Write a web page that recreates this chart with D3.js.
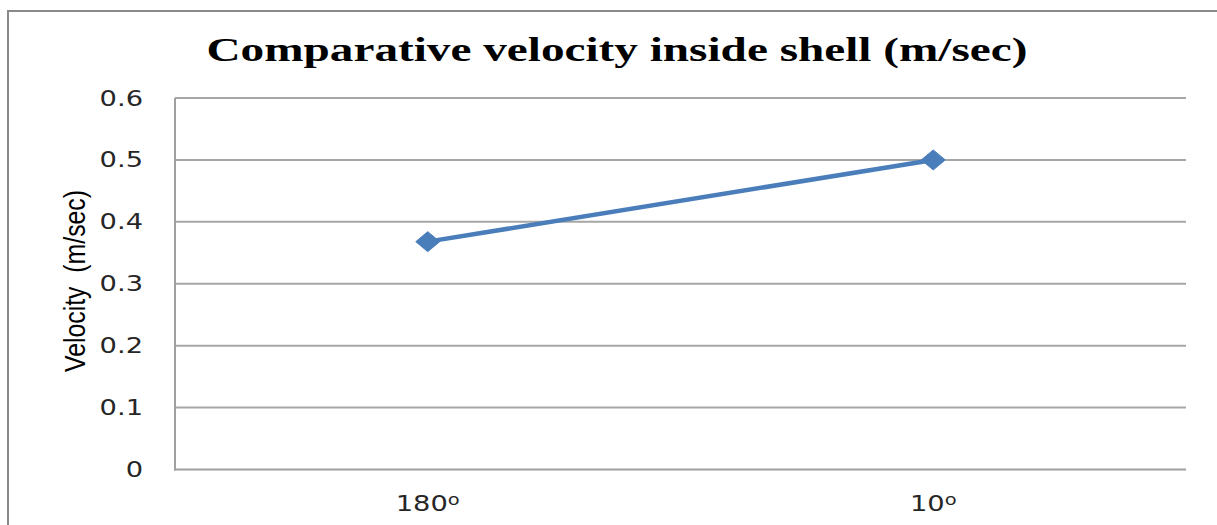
<!DOCTYPE html>
<html>
<head>
<meta charset="utf-8">
<script src="https://cdn.jsdelivr.net/npm/d3@7"></script>
<style>
  html, body { margin: 0; padding: 0; background: #fff; }
  svg { display: block; }
  text { white-space: pre; }
</style>
</head>
<body>
<svg id="chart" width="1217" height="525"></svg>
<script>
const titleText = "Comparative velocity inside shell (m/sec)";
const yAxisLabel = "Velocity  (m/sec)";
const categories = ["180\u00B0", "10\u00B0"];
const velocity = [0.368, 0.5];
const yTicks = [0, 0.1, 0.2, 0.3, 0.4, 0.5, 0.6];

const svg = d3.select("#chart");
const W = 1217, H = 525;
const stretch = 1.3; // horizontal text stretch seen in the reference

// outer frame (extends past right and bottom edge)
svg.append("rect")
  .attr("x", 8).attr("y", 11)
  .attr("width", W + 20).attr("height", H + 20)
  .attr("fill", "#fff").attr("stroke", "#898989").attr("stroke-width", 2);

const plot = { left: 175, right: 1186, top: 98, bottom: 469.5 };

const x = d3.scaleBand().domain(categories).range([plot.left, plot.right]);
const y = d3.scaleLinear().domain([0, 0.6]).range([plot.bottom, plot.top]);

// gridlines
svg.append("g").selectAll("line").data(yTicks.filter(d => d > 0)).join("line")
  .attr("x1", plot.left).attr("x2", plot.right)
  .attr("y1", d => y(d)).attr("y2", d => y(d))
  .attr("stroke", "#a6a6a6").attr("stroke-width", 2);

// axes lines
svg.append("line").attr("x1", plot.left).attr("x2", plot.left)
  .attr("y1", plot.top).attr("y2", plot.bottom + 1)
  .attr("stroke", "#a0a0a0").attr("stroke-width", 2);
svg.append("line").attr("x1", plot.left - 1).attr("x2", plot.right)
  .attr("y1", plot.bottom).attr("y2", plot.bottom)
  .attr("stroke", "#a0a0a0").attr("stroke-width", 2);

// y tick labels
svg.append("g").selectAll("text").data(yTicks).join("text")
  .attr("transform", d => `translate(${plot.left - 32},${y(d)}) scale(${stretch},1)`)
  .attr("dy", "0.36em")
  .attr("text-anchor", "end")
  .attr("font-family", "DejaVu Sans, Verdana, sans-serif")
  .attr("font-size", 21)
  .attr("fill", "#262626")
  .text(d => d3.format("")(d));

// x tick labels (degree sign drawn as raised small "o" like the reference)
const xl = svg.append("g").selectAll("text").data(categories).join("text")
  .attr("transform", d => `translate(${x(d) + x.bandwidth() / 2},511) scale(${stretch},1)`)
  .attr("text-anchor", "middle")
  .attr("font-family", "DejaVu Sans, Verdana, sans-serif")
  .attr("font-size", 21)
  .attr("fill", "#262626");
xl.append("tspan").text(d => d.replace("\u00B0", ""));
xl.append("tspan").attr("font-size", 15).attr("dy", -6).text("o");

// y axis title
svg.append("text")
  .attr("transform", `translate(85,281) scale(${stretch},1) rotate(-90)`)
  .attr("text-anchor", "middle")
  .attr("font-family", "Liberation Sans Narrow, Liberation Sans, Arial, sans-serif")
  .attr("font-size", 22)
  .attr("textLength", 182)
  .attr("lengthAdjust", "spacingAndGlyphs")
  .attr("fill", "#000")
  .text(yAxisLabel);

// chart title
svg.append("text")
  .attr("x", 617).attr("y", 61)
  .attr("text-anchor", "middle")
  .attr("font-family", "Liberation Serif, Times New Roman, serif")
  .attr("font-weight", "bold")
  .attr("font-size", 33)
  .attr("textLength", 821)
  .attr("lengthAdjust", "spacingAndGlyphs")
  .attr("fill", "#000")
  .text(titleText);

// line series
const pts = categories.map((c, i) => [x(c) + x.bandwidth() / 2, y(velocity[i])]);
svg.append("path")
  .attr("d", d3.line()(pts))
  .attr("fill", "none")
  .attr("stroke", "#4a7ebb")
  .attr("stroke-width", 4.5)
  .attr("stroke-linecap", "round");

// diamond markers
svg.append("g").selectAll("path").data(pts).join("path")
  .attr("transform", d => `translate(${d[0]},${d[1]})`)
  .attr("d", "M-12,0 L0,-10 L12,0 L0,10 Z")
  .attr("fill", "#4a7ebb")
  .attr("stroke", "#4a7ebb")
  .attr("stroke-width", 1);
</script>
</body>
</html>
